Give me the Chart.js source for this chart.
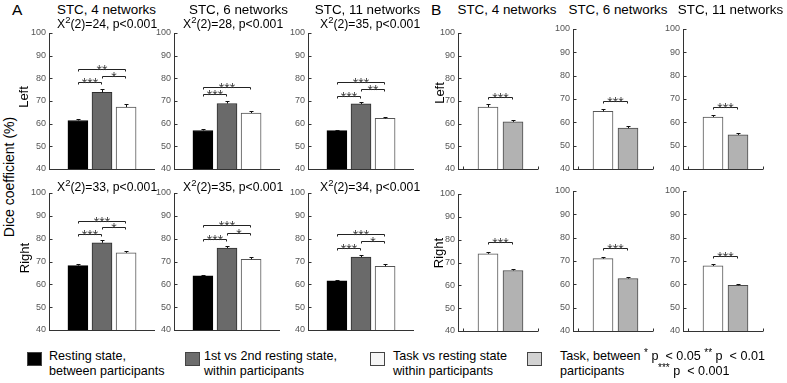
<!DOCTYPE html>
<html><head><meta charset="utf-8">
<script src="https://cdn.jsdelivr.net/npm/chart.js@4"></script>
<style>
body{margin:0;width:787px;height:383px;background:#fff;position:relative;overflow:hidden;font-family:"Liberation Sans",Arial,sans-serif;color:#000}
.t{position:absolute;white-space:nowrap;}
.v{position:absolute;white-space:nowrap;transform:translate(-50%,-50%) rotate(-90deg);}
.box{position:absolute}
.sq{position:absolute;width:13px;height:12px;border:1px solid #444;}
.ast{font-size:10px;position:relative;top:-4px}
</style></head><body>
<script>
// ---------- data ----------
const networks = ["STC, 4 networks", "STC, 6 networks", "STC, 11 networks"];
const hemispheres = ["Left", "Right"];
const seriesNames = ["Resting state,\nbetween participants", "1st vs 2nd resting state,\nwithin participants", "Task vs resting state\nwithin participants", "Task, between\nparticipants"];
const yTicks = [40, 50, 60, 70, 80, 90, 100];

// Dice coefficient (%) per network (4, 6, 11)
const restBetweenLeft  = [61.4, 57.0, 56.9];
const restWithinLeft   = [73.8, 68.9, 68.7];
const taskVsRestLeft   = [67.3, 64.7, 62.3];
const taskBetweenLeft  = [60.8, 57.5, 54.6];
const restBetweenRight = [68.2, 63.7, 61.5];
const restWithinRight  = [78.2, 75.9, 71.9];
const taskVsRestRight  = [73.8, 71.0, 67.9];
const taskBetweenRight = [66.5, 62.5, 59.6];

// standard errors
const restBetweenLeftErr  = [0.6, 0.6, 0.5];
const restWithinLeftErr   = [1.3, 1.1, 1.0];
const taskVsRestLeftErr   = [1.2, 0.9, 0.8];
const taskBetweenLeftErr  = [0.9, 0.9, 0.8];
const restBetweenRightErr = [0.5, 0.6, 0.6];
const restWithinRightErr  = [1.1, 1.0, 0.8];
const taskVsRestRightErr  = [0.9, 0.9, 0.8];
const taskBetweenRightErr = [0.6, 0.6, 0.5];

// Friedman chi-square statistics
const chiLeft  = [24, 28, 35];
const chiRight = [33, 35, 34];

// significance brackets: [barA, barB, level (%), label]
const sigALeft = [
  [[1, 2, 78.2, "***"], [2, 3, 81.1, "*"], [1, 3, 84.2, "**"]],
  [[1, 2, 73.1, "***"], [1, 3, 76.0, "***"]],
  [[1, 2, 72.3, "***"], [2, 3, 75.4, "**"], [1, 3, 78.5, "***"]]
];
const sigARight = [
  [[1, 2, 82.1, "***"], [2, 3, 84.9, "*"], [1, 3, 87.9, "***"]],
  [[1, 2, 79.8, "***"], [2, 3, 82.7, "*"], [1, 3, 85.9, "***"]],
  [[1, 2, 75.9, "***"], [2, 3, 78.8, "*"], [1, 3, 82.1, "***"]]
];
const sigBLeft  = [[[1, 2, 71.9, "***"]], [[1, 2, 69.0, "***"]], [[1, 2, 66.4, "***"]]];
const sigBRight = [[[1, 2, 78.8, "***"]], [[1, 2, 75.7, "***"]], [[1, 2, 72.1, "***"]]];

// ---------- styles / layout ----------
const fills   = ["#000000", "#6a6a6a", "#ffffff", "#b2b2b2"];
const edges   = ["#000000", "#2e2e2e", "#555555", "#4a4a4a"];
const legendFills = ["#000000", "#6d6d6d", "#f6f6f6", "#d2d2d2"];

const layoutA = {
  lefts: [49, 174, 308], width: 106,
  rows: [[33, 169], [193, 330]],
  xmin: -0.2, xmax: 4.2
};
const layoutB = {
  lefts: [458, 573, 683], width: 80,
  rows: [[[33, 169], [194, 331]], [[29, 169], [191, 331]], [[29, 169], [191, 331]]],
  xmin: -0.2, xmax: 3
};

const FONT = '"Liberation Sans", Arial, sans-serif';

const deco = {
  id: 'deco',
  afterDatasetsDraw(chart, args, o) {
    const {ctx, chartArea: a, scales: {x, y}} = chart;
    ctx.save();
    ctx.strokeStyle = '#333'; ctx.lineWidth = 1;
    const ln = (x1, y1, x2, y2) => { ctx.beginPath(); ctx.moveTo(x1, y1); ctx.lineTo(x2, y2); ctx.stroke(); };
    const L = Math.round(a.left) + 0.5;
    yTicks.forEach(v => { const py = Math.round(y.getPixelForValue(v)) + 0.5; ln(L, py, L + 3, py); });
    const by = Math.round(a.bottom) + 0.5;
    ln(a.left, by, a.right, by);
    (o.xticks || []).forEach(xv => { const px = Math.round(x.getPixelForValue(xv)) + 0.5; ln(px, by, px, by - 3); });
    // error bars
    ctx.strokeStyle = '#111';
    o.values.forEach((v, i) => {
      const px = Math.round(x.getPixelForValue(i + 1)) + 0.5;
      const p0 = y.getPixelForValue(v), p1 = Math.round(y.getPixelForValue(v + o.errors[i])) + 0.5;
      ln(px, p0, px, p1); ln(px - 2, p1, px + 2, p1);
    });
    // significance brackets
    ctx.strokeStyle = '#222'; ctx.fillStyle = '#3a3a3a';
    ctx.font = '14px ' + FONT; ctx.textAlign = 'center'; ctx.textBaseline = 'alphabetic';
    o.sigs.forEach(([i1, i2, lev, lab]) => {
      const x1 = Math.round(x.getPixelForValue(i1)) + 0.5, x2 = Math.round(x.getPixelForValue(i2)) - 0.5;
      const py = Math.round(y.getPixelForValue(lev)) + 0.5;
      ln(x1, py, x2, py); ln(x1, py, x1, py + 2); ln(x2, py, x2, py + 2);
      ctx.fillText(lab, (x1 + x2) / 2, py + 5);
    });
    ctx.restore();
  }
};

function panel(left, width, top, bottom, xmin, xmax, values, errors, colorIdx, sigs, xticks) {
  const padT = 8, padB = 4, padR = 4, axisW = 30;
  const W = width + axisW + padR, H = bottom - top + padT + padB;
  const div = document.createElement('div'); div.className = 'box';
  div.style.left = (left - axisW) + 'px'; div.style.top = (top - padT) + 'px';
  div.style.width = W + 'px'; div.style.height = H + 'px';
  const c = document.createElement('canvas'); c.width = W; c.height = H;
  c.style.width = W + 'px'; c.style.height = H + 'px';
  div.appendChild(c); document.body.appendChild(div);
  new Chart(c, {
    type: 'bar',
    data: { datasets: [{
      data: values.map((v, i) => ({x: i + 1, y: v})),
      backgroundColor: colorIdx.map(k => fills[k]),
      borderColor: colorIdx.map(k => edges[k]),
      borderWidth: 1, borderSkipped: 'start', barThickness: 20, grouped: false
    }]},
    options: {
      responsive: false, animation: false, devicePixelRatio: 1,
      layout: { padding: { left: 0, top: padT, right: padR, bottom: padB } },
      plugins: { legend: { display: false }, tooltip: { enabled: false },
        deco: { values, errors, sigs, xticks } },
      scales: {
        x: { type: 'linear', min: xmin, max: xmax, offset: false, bounds: 'ticks', grace: 0,
             grid: { offset: false }, display: false,
             afterDataLimits: s => { s.min = xmin; s.max = xmax; } },
        y: { min: 40, max: 100, afterBuildTicks: s => { s.ticks = yTicks.map(v => ({value: v})); },
          ticks: { color: '#555', font: { size: 9, family: FONT }, padding: 3 },
          grid: { display: false, drawTicks: false },
          border: { display: true, color: '#333', width: 1 },
          afterFit: s => { s.width = axisW; s.paddingTop = 0; s.paddingBottom = 0; } }
      }
    },
    plugins: [deco]
  });
}

// Panel A
const leftSets  = [restBetweenLeft, restWithinLeft, taskVsRestLeft];
const leftErrs  = [restBetweenLeftErr, restWithinLeftErr, taskVsRestLeftErr];
const rightSets = [restBetweenRight, restWithinRight, taskVsRestRight];
const rightErrs = [restBetweenRightErr, restWithinRightErr, taskVsRestRightErr];
for (let n = 0; n < 3; n++) {
  panel(layoutA.lefts[n], layoutA.width, layoutA.rows[0][0], layoutA.rows[0][1], layoutA.xmin, layoutA.xmax,
    leftSets.map(s => s[n]), leftErrs.map(s => s[n]), [0, 1, 2], sigALeft[n], []);
  panel(layoutA.lefts[n], layoutA.width, layoutA.rows[1][0], layoutA.rows[1][1], layoutA.xmin, layoutA.xmax,
    rightSets.map(s => s[n]), rightErrs.map(s => s[n]), [0, 1, 2], sigARight[n], []);
  // Panel B
  const r = layoutB.rows[n];
  panel(layoutB.lefts[n], layoutB.width, r[0][0], r[0][1], layoutB.xmin, layoutB.xmax,
    [taskVsRestLeft[n], taskBetweenLeft[n]], [taskVsRestLeftErr[n], taskBetweenLeftErr[n]], [2, 3], sigBLeft[n], [0, 3]);
  panel(layoutB.lefts[n], layoutB.width, r[1][0], r[1][1], layoutB.xmin, layoutB.xmax,
    [taskVsRestRight[n], taskBetweenRight[n]], [taskVsRestRightErr[n], taskBetweenRightErr[n]], [2, 3], sigBRight[n], [0, 3]);
}

// ---------- text ----------
function txt(html, x, y, size, extra) {
  const d = document.createElement('div'); d.className = 't';
  d.style.left = x + 'px'; d.style.top = y + 'px'; d.style.fontSize = size + 'px';
  d.style.lineHeight = Math.round(size * 1.2) + 'px';
  if (extra) Object.assign(d.style, extra);
  d.innerHTML = html; document.body.appendChild(d); return d;
}
function vtxt(s, cx, cy, size) {
  const d = document.createElement('div'); d.className = 'v';
  d.style.left = cx + 'px'; d.style.top = cy + 'px'; d.style.fontSize = size + 'px';
  d.textContent = s; document.body.appendChild(d);
}
txt('A', 12, 0, 15.5);
txt('B', 431, 0, 15.5);
const titleCentersA = [106.5, 238.5, 367.5];
const titleCentersB = [507, 618, 730.5];
networks.forEach((nm, i) => {
  const a = txt(nm, titleCentersA[i], 2, 13.4); a.style.transform = 'translateX(-50%)';
  const b = txt(nm, titleCentersB[i], 2, 13.4); b.style.transform = 'translateX(-50%)';
});
const chiX = [57, 183, 320];
const chiStr = v => 'X<span style="font-size:9.5px;position:relative;top:-5px">2</span>(2)=' + v + ', p&lt;0.001';
chiLeft.forEach((v, i) => txt(chiStr(v), chiX[i], 16.5, 12.2));
chiRight.forEach((v, i) => txt(chiStr(v), chiX[i], 180, 12.2));

vtxt('Dice coefficient (%)', 9, 177, 14);
vtxt(hemispheres[0], 23, 96.5, 13);
vtxt(hemispheres[1], 23.5, 258, 13);
vtxt(hemispheres[0], 439, 92.5, 13);
vtxt(hemispheres[1], 437.5, 252.5, 13);

// legend
const legSq = [27, 185, 370, 527];
const legTx = [49, 204, 393, 560];
seriesNames.forEach((nm, i) => {
  const s = document.createElement('div'); s.className = 'sq';
  s.style.left = legSq[i] + 'px'; s.style.top = '352px'; s.style.background = legendFills[i];
  document.body.appendChild(s);
  const d = txt(nm.replace('\n', '<br>'), legTx[i], 348.5, 12.6); d.style.lineHeight = '15px';
});
txt('<span class="ast">*</span> p &nbsp;&lt; 0.05 <span class="ast">**</span> p &nbsp;&lt; 0.01', 644, 348.5, 12.6, {lineHeight: '15px'});
txt('<span class="ast">***</span> p &nbsp;&lt; 0.001', 658, 363.5, 12.6, {lineHeight: '15px'});
</script>
</body></html>
